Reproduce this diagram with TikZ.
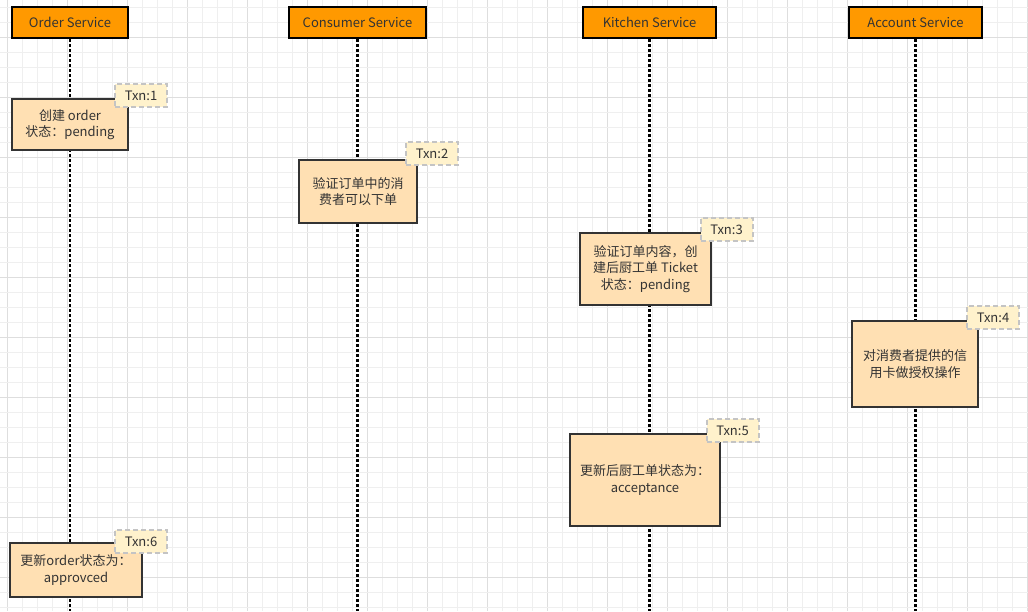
\documentclass[tikz,border=0pt]{standalone}
\usepackage{fontspec}
\setmainfont{Noto Sans CJK SC}
\definecolor{gridminor}{HTML}{EFEFEF}
\definecolor{gridmajor}{HTML}{DEDEDE}
\definecolor{hdrfill}{HTML}{FF9900}
\definecolor{boxfill}{HTML}{FFE0B3}
\definecolor{txnfill}{HTML}{FFF2CC}
\definecolor{txndraw}{HTML}{C4C4C4}
\definecolor{txt}{HTML}{333333}
\begin{document}
\begin{tikzpicture}[x=1pt,y=-1pt,
  hdr/.style={draw=black,line width=2pt,fill=hdrfill,text=txt,inner sep=0pt,
    font=\fontsize{13}{16}\selectfont},
  act/.style={draw=txt,line width=2pt,fill=boxfill,text=txt,inner sep=0pt,align=center,
    font=\fontsize{13}{16.5}\selectfont},
  txn/.style={draw=txndraw,line width=2pt,dash pattern=on 5pt off 3pt,fill=txnfill,text=txt,
    inner sep=0pt,minimum width=52pt,minimum height=23pt,font=\fontsize{13}{16}\selectfont},
  life/.style={line width=2.2pt,dash pattern=on 2.5pt off 2.5pt,black}]
\useasboundingbox (0,0) rectangle (1028,611);
\fill[white] (0,0) rectangle (1028,611);
% grid
\foreach \k in {0,...,68} {
  \pgfmathtruncatemacro{\m}{mod(\k,4)}
  \pgfmathsetmacro{\xx}{7+15*\k}
  \ifnum\m=0 \draw[gridmajor,line width=1pt] (\xx,0) -- (\xx,611);
  \else \draw[gridminor,line width=1pt] (\xx,0) -- (\xx,611); \fi
}
\foreach \k in {0,...,40} {
  \pgfmathtruncatemacro{\m}{mod(\k,4)}
  \pgfmathsetmacro{\yy}{7+15*\k}
  \ifnum\m=2 \draw[gridmajor,line width=1pt] (0,\yy) -- (1028,\yy);
  \else \draw[gridminor,line width=1pt] (0,\yy) -- (1028,\yy); \fi
}
% headers
\node[hdr,minimum width=116pt,minimum height=31pt] (h1) at (70,22.5) {Order Service};
\node[hdr,minimum width=137pt,minimum height=31pt] (h2) at (357.5,22.5) {Consumer Service};
\node[hdr,minimum width=133pt,minimum height=31pt] (h3) at (649.5,22.5) {Kitchen Service};
\node[hdr,minimum width=133pt,minimum height=31pt] (h4) at (915.5,22.5) {Account Service};
\coordinate (e1) at (70,611);
\coordinate (e2) at (357.5,611);
\coordinate (e3) at (649.5,611);
\coordinate (e4) at (915.5,611);
\draw[life] (h1.south) -- (e1);
\draw[life] (h2.south) -- (e2);
\draw[life] (h3.south) -- (e3);
\draw[life] (h4.south) -- (e4);
% activity boxes
\node[act,minimum width=116pt,minimum height=51pt] (b1) at (70,124.5) {创建 order\\状态：pending};
\node[act,minimum width=118pt,minimum height=63pt] (b2) at (358,191.5) {验证订单中的消\\费者可以下单};
\node[act,minimum width=131pt,minimum height=72pt] (b3) at (645.5,269) {验证订单内容，创\\建后厨工单 Ticket\\状态：pending};
\node[act,minimum width=126pt,minimum height=86pt] (b4) at (915,364) {对消费者提供的信\\用卡做授权操作};
\node[act,minimum width=150pt,minimum height=92pt] (b5) at (645,480) {更新后厨工单状态为：\\acceptance};
\node[act,minimum width=132pt,minimum height=54pt] (b6) at (76,570) {更新order状态为：\\approvced};
% txn labels
\node[txn] (t1) at (141,95.5) {Txn:1};
\node[txn] (t2) at (432,153.5) {Txn:2};
\node[txn] (t3) at (726.5,229.5) {Txn:3};
\node[txn] (t4) at (993,317.5) {Txn:4};
\node[txn] (t5) at (732.5,430.5) {Txn:5};
\node[txn] (t6) at (141,541.5) {Txn:6};
\end{tikzpicture}
\end{document}
